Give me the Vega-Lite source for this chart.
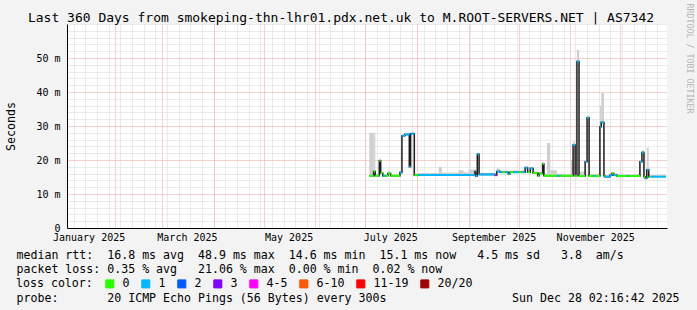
{
  "$schema": "https://vega.github.io/schema/vega-lite/v6.json",
  "width": 600,
  "height": 204,
  "autosize": {"type": "none"},
  "padding": {"left": 67, "top": 24, "right": 30, "bottom": 82},
  "background": "#f3f3f3",
  "config": {
    "view": {"fill": "white", "stroke": null},
    "axis": {"labelFont": "DejaVu Sans Mono", "titleFont": "DejaVu Sans Mono", "labelColor": "black", "titleColor": "black", "titleFontWeight": "normal"}
  },
  "data": {"values": [
    {"t":"2025-07-03T10:00","t2":"2025-07-06T00:00","med":15.4,"hi":28,"loss":"0"},
    {"t":"2025-07-06T00:00","t2":"2025-07-07T00:00","med":16.6,"hi":28,"loss":"0"},
    {"t":"2025-07-07T00:00","t2":"2025-07-09T10:00","med":15.4,"hi":16,"loss":"0"},
    {"t":"2025-07-09T10:00","t2":"2025-07-10T06:00","med":19.8,"hi":20.5,"loss":"0"},
    {"t":"2025-07-10T06:00","t2":"2025-07-11T12:00","med":16.2,"hi":16.6,"loss":"0"},
    {"t":"2025-07-11T12:00","t2":"2025-07-13T00:00","med":15.4,"hi":15.8,"loss":"1"},
    {"t":"2025-07-13T00:00","t2":"2025-07-14T14:00","med":15.4,"hi":15.8,"loss":"0"},
    {"t":"2025-07-14T14:00","t2":"2025-07-16T05:00","med":16.0,"hi":16.6,"loss":"0"},
    {"t":"2025-07-16T05:00","t2":"2025-07-21T19:00","med":15.4,"hi":15.8,"loss":"0"},
    {"t":"2025-07-21T19:00","t2":"2025-07-23T00:00","med":16.3,"hi":16.8,"loss":"1"},
    {"t":"2025-07-23T00:00","t2":"2025-07-24T19:00","med":27.1,"hi":27.6,"loss":"1"},
    {"t":"2025-07-24T19:00","t2":"2025-07-27T10:00","med":27.5,"hi":28,"loss":"1"},
    {"t":"2025-07-27T10:00","t2":"2025-07-28T05:00","med":18.0,"hi":27.5,"loss":"1"},
    {"t":"2025-07-28T05:00","t2":"2025-07-30T10:00","med":27.7,"hi":28.2,"loss":"1"},
    {"t":"2025-07-30T10:00","t2":"2025-08-02T00:00","med":15.5,"hi":16,"loss":"0"},
    {"t":"2025-08-02T00:00","t2":"2025-08-14T00:00","med":15.6,"hi":16.2,"loss":"1"},
    {"t":"2025-08-14T00:00","t2":"2025-08-16T00:00","med":15.6,"hi":18,"loss":"1"},
    {"t":"2025-08-16T00:00","t2":"2025-08-26T00:00","med":15.6,"hi":16.3,"loss":"1"},
    {"t":"2025-08-26T00:00","t2":"2025-08-29T00:00","med":15.6,"hi":17,"loss":"1"},
    {"t":"2025-08-29T00:00","t2":"2025-09-01T00:00","med":15.6,"hi":16.4,"loss":"1"},
    {"t":"2025-09-01T00:00","t2":"2025-09-04T19:00","med":15.6,"hi":17.2,"loss":"1"},
    {"t":"2025-09-04T19:00","t2":"2025-09-05T05:00","med":16.6,"hi":17.3,"loss":"1"},
    {"t":"2025-09-05T05:00","t2":"2025-09-06T05:00","med":15.3,"hi":16,"loss":"1"},
    {"t":"2025-09-06T05:00","t2":"2025-09-07T07:00","med":21.7,"hi":22.2,"loss":"1"},
    {"t":"2025-09-07T07:00","t2":"2025-09-16T22:00","med":15.7,"hi":16.2,"loss":"1"},
    {"t":"2025-09-16T22:00","t2":"2025-09-17T22:00","med":15.5,"hi":16,"loss":"4-5"},
    {"t":"2025-09-17T22:00","t2":"2025-09-19T19:00","med":16.6,"hi":17.5,"loss":"1"},
    {"t":"2025-09-19T19:00","t2":"2025-09-21T00:00","med":16.4,"hi":16.9,"loss":"1"},
    {"t":"2025-09-21T00:00","t2":"2025-09-23T00:00","med":16.4,"hi":16.9,"loss":"0"},
    {"t":"2025-09-23T00:00","t2":"2025-09-24T19:00","med":16.4,"hi":16.9,"loss":"1"},
    {"t":"2025-09-24T19:00","t2":"2025-09-25T19:00","med":15.9,"hi":16.4,"loss":"1"},
    {"t":"2025-09-25T19:00","t2":"2025-09-28T00:00","med":16.4,"hi":16.9,"loss":"0"},
    {"t":"2025-09-28T00:00","t2":"2025-10-01T00:00","med":16.4,"hi":16.9,"loss":"1"},
    {"t":"2025-10-01T00:00","t2":"2025-10-03T00:00","med":16.4,"hi":16.9,"loss":"0"},
    {"t":"2025-10-03T00:00","t2":"2025-10-04T22:00","med":16.4,"hi":16.9,"loss":"1"},
    {"t":"2025-10-04T22:00","t2":"2025-10-06T10:00","med":17.7,"hi":18.3,"loss":"1"},
    {"t":"2025-10-06T10:00","t2":"2025-10-08T00:00","med":16.4,"hi":16.9,"loss":"0"},
    {"t":"2025-10-08T00:00","t2":"2025-10-09T17:00","med":17.5,"hi":18,"loss":"1"},
    {"t":"2025-10-09T17:00","t2":"2025-10-12T10:00","med":16.2,"hi":16.7,"loss":"0"},
    {"t":"2025-10-12T10:00","t2":"2025-10-13T07:00","med":15.4,"hi":16,"loss":"0"},
    {"t":"2025-10-13T07:00","t2":"2025-10-15T10:00","med":16.0,"hi":16.5,"loss":"0"},
    {"t":"2025-10-15T10:00","t2":"2025-10-16T05:00","med":18.8,"hi":19.5,"loss":"0"},
    {"t":"2025-10-16T05:00","t2":"2025-10-18T00:00","med":15.4,"hi":16,"loss":"0"},
    {"t":"2025-10-18T00:00","t2":"2025-10-20T00:00","med":15.4,"hi":25,"loss":"0"},
    {"t":"2025-10-20T00:00","t2":"2025-10-24T00:00","med":15.4,"hi":17,"loss":"0"},
    {"t":"2025-10-24T00:00","t2":"2025-10-26T00:00","med":15.4,"hi":15.9,"loss":"1"},
    {"t":"2025-10-26T00:00","t2":"2025-11-01T12:00","med":15.4,"hi":15.9,"loss":"0"},
    {"t":"2025-11-01T12:00","t2":"2025-11-02T17:00","med":15.4,"hi":20,"loss":"0"},
    {"t":"2025-11-02T17:00","t2":"2025-11-03T22:00","med":24.4,"hi":25.4,"loss":"1"},
    {"t":"2025-11-03T22:00","t2":"2025-11-05T00:00","med":15.4,"hi":16,"loss":"0"},
    {"t":"2025-11-05T00:00","t2":"2025-11-06T06:00","med":49.0,"hi":52.4,"loss":"1"},
    {"t":"2025-11-06T06:00","t2":"2025-11-09T22:00","med":15.3,"hi":16.6,"loss":"0"},
    {"t":"2025-11-09T22:00","t2":"2025-11-11T02:00","med":19.5,"hi":20,"loss":"1"},
    {"t":"2025-11-11T02:00","t2":"2025-11-12T07:00","med":32.4,"hi":33,"loss":"1"},
    {"t":"2025-11-12T07:00","t2":"2025-11-15T00:00","med":15.3,"hi":15.9,"loss":"0"},
    {"t":"2025-11-15T00:00","t2":"2025-11-16T00:00","med":15.3,"hi":15.9,"loss":"1"},
    {"t":"2025-11-16T00:00","t2":"2025-11-18T19:00","med":15.3,"hi":15.9,"loss":"0"},
    {"t":"2025-11-18T19:00","t2":"2025-11-19T14:00","med":29.8,"hi":36,"loss":"1"},
    {"t":"2025-11-19T14:00","t2":"2025-11-21T05:00","med":31.0,"hi":39.7,"loss":"1"},
    {"t":"2025-11-21T05:00","t2":"2025-11-21T19:00","med":15.3,"hi":16,"loss":"0"},
    {"t":"2025-11-21T19:00","t2":"2025-11-24T19:00","med":15.1,"hi":15.6,"loss":"1"},
    {"t":"2025-11-24T19:00","t2":"2025-11-26T00:00","med":15.5,"hi":16.3,"loss":"1"},
    {"t":"2025-11-26T00:00","t2":"2025-11-27T00:00","med":16.0,"hi":16.5,"loss":"0"},
    {"t":"2025-11-27T00:00","t2":"2025-11-28T22:00","med":15.6,"hi":16.2,"loss":"1"},
    {"t":"2025-11-28T22:00","t2":"2025-12-05T00:00","med":15.3,"hi":15.8,"loss":"0"},
    {"t":"2025-12-05T00:00","t2":"2025-12-06T00:00","med":15.3,"hi":15.8,"loss":"1"},
    {"t":"2025-12-06T00:00","t2":"2025-12-12T19:00","med":15.3,"hi":15.8,"loss":"0"},
    {"t":"2025-12-12T19:00","t2":"2025-12-14T00:00","med":19.5,"hi":20,"loss":"1"},
    {"t":"2025-12-14T00:00","t2":"2025-12-15T05:00","med":22.2,"hi":22.8,"loss":"1"},
    {"t":"2025-12-15T05:00","t2":"2025-12-16T00:00","med":15.1,"hi":15.6,"loss":"0"},
    {"t":"2025-12-16T00:00","t2":"2025-12-16T22:00","med":14.6,"hi":15.2,"loss":"1"},
    {"t":"2025-12-16T22:00","t2":"2025-12-18T02:00","med":17.1,"hi":23.7,"loss":"1"},
    {"t":"2025-12-18T02:00","t2":"2025-12-19T00:00","med":15.1,"hi":15.6,"loss":"0"},
    {"t":"2025-12-19T00:00","t2":"2025-12-28T10:00","med":15.1,"hi":15.6,"loss":"1"}
  ]},
  "resolve": {"axis": {"x": "independent", "y": "independent"}},
  "layer": [
    {
      "mark": {"type": "rect", "color": "#cfcfcf"},
      "encoding": {
        "x": {"field": "t", "type": "temporal",
          "scale": {"domain": [{"year":2025,"month":1,"date":3,"hours":1},{"year":2025,"month":12,"date":29,"hours":1}]},
          "axis": {"orient": "bottom", "grid": true, "gridColor": "#d6d6d6", "gridDash": [1, 1], "labels": false, "ticks": false, "domain": false, "title": null,
            "values": [
              {"year":2025,"month":1,"date":7},{"year":2025,"month":1,"date":14},{"year":2025,"month":1,"date":21},{"year":2025,"month":1,"date":28},
              {"year":2025,"month":2,"date":4},{"year":2025,"month":2,"date":11},{"year":2025,"month":2,"date":18},{"year":2025,"month":2,"date":25},
              {"year":2025,"month":3,"date":4},{"year":2025,"month":3,"date":11},{"year":2025,"month":3,"date":18},{"year":2025,"month":3,"date":25},
              {"year":2025,"month":4,"date":1},{"year":2025,"month":4,"date":8},{"year":2025,"month":4,"date":15},{"year":2025,"month":4,"date":22},{"year":2025,"month":4,"date":29},
              {"year":2025,"month":5,"date":6},{"year":2025,"month":5,"date":13},{"year":2025,"month":5,"date":20},{"year":2025,"month":5,"date":27},
              {"year":2025,"month":6,"date":3},{"year":2025,"month":6,"date":10},{"year":2025,"month":6,"date":17},{"year":2025,"month":6,"date":24},
              {"year":2025,"month":7,"date":1},{"year":2025,"month":7,"date":8},{"year":2025,"month":7,"date":15},{"year":2025,"month":7,"date":22},{"year":2025,"month":7,"date":29},
              {"year":2025,"month":8,"date":5},{"year":2025,"month":8,"date":12},{"year":2025,"month":8,"date":19},{"year":2025,"month":8,"date":26},
              {"year":2025,"month":9,"date":2},{"year":2025,"month":9,"date":9},{"year":2025,"month":9,"date":16},{"year":2025,"month":9,"date":23},{"year":2025,"month":9,"date":30},
              {"year":2025,"month":10,"date":7},{"year":2025,"month":10,"date":14},{"year":2025,"month":10,"date":21},{"year":2025,"month":10,"date":28},
              {"year":2025,"month":11,"date":4},{"year":2025,"month":11,"date":11},{"year":2025,"month":11,"date":18},{"year":2025,"month":11,"date":25},
              {"year":2025,"month":12,"date":2},{"year":2025,"month":12,"date":9},{"year":2025,"month":12,"date":16},{"year":2025,"month":12,"date":23}
            ]}},
        "x2": {"field": "t2"},
        "y": {"field": "med", "type": "quantitative",
          "scale": {"domain": [0, 60], "nice": false},
          "axis": {"orient": "left", "values": [2,4,6,8,12,14,16,18,22,24,26,28,32,34,36,38,42,44,46,48,52,54,56,58,60], "grid": true, "gridColor": "#d6d6d6", "gridDash": [1, 1], "labels": false, "ticks": false, "domain": false,
            "title": "Last 360 Days from smokeping-thn-lhr01.pdx.net.uk to M.ROOT-SERVERS.NET | AS7342",
            "titleFontSize": 13, "titleAngle": 0, "titleX": 273.5, "titleY": -2.5, "titleAlign": "center", "titleBaseline": "alphabetic"}},
        "y2": {"field": "hi"}
      }
    },
    {
      "mark": {"type": "line", "interpolate": "step-after", "color": "#1c1c1c", "strokeWidth": 1.5},
      "encoding": {
        "x": {"field": "t", "type": "temporal",
          "axis": {"orient": "bottom", "tickCount": {"interval": "month", "step": 1}, "grid": true, "gridColor": "#eea0a0", "gridDash": [1, 1], "labels": false, "ticks": false, "domain": true, "domainColor": "black", "domainWidth": 1,
            "title": "probe:\u00a0\u00a0\u00a0\u00a0\u00a0\u00a0\u00a020 ICMP Echo Pings (56 Bytes) every 300s\u00a0\u00a0\u00a0\u00a0\u00a0\u00a0\u00a0\u00a0\u00a0\u00a0\u00a0\u00a0\u00a0\u00a0\u00a0\u00a0\u00a0\u00a0Sun Dec 28 02:16:42 2025",
            "titleFontSize": 11.6, "titleX": -51, "titleY": 73.5, "titleAnchor": "start", "titleAlign": "left", "titleBaseline": "alphabetic"}},
        "y": {"field": "med", "type": "quantitative",
          "axis": {"orient": "left", "values": [0, 10, 20, 30, 40, 50], "grid": true, "gridColor": "#eea0a0", "gridDash": [1, 1],
            "labelExpr": "datum.value == 0 ? '0' : datum.value + ' m'", "labelFontSize": 10, "labelPadding": 7, "ticks": false, "tickSize": 0,
            "domain": true, "domainColor": "black", "domainWidth": 1,
            "title": "Seconds", "titleFontSize": 11.6, "titleAngle": 270, "titleX": -53, "titleY": 102, "titleAlign": "center", "titleBaseline": "alphabetic"}}
      }
    },
    {
      "mark": {"type": "rect", "strokeWidth": 2},
      "encoding": {
        "x": {"field": "t", "type": "temporal",
          "axis": {"orient": "bottom", "values": [{"year":2025,"month":1,"date":16},{"year":2025,"month":3,"date":16},{"year":2025,"month":5,"date":16},{"year":2025,"month":7,"date":16},{"year":2025,"month":9,"date":16},{"year":2025,"month":11,"date":16}],
            "format": "%B %Y", "labelFontSize": 10, "labelPadding": 4, "labelFlush": false, "labelOverlap": false, "grid": false, "ticks": false, "tickSize": 0, "domain": false,
            "title": [
              "median rtt:\u00a0\u00a016.8 ms avg\u00a0\u00a048.9 ms max\u00a0\u00a014.6 ms min\u00a0\u00a015.1 ms now\u00a0\u00a0\u00a04.5 ms sd\u00a0\u00a0\u00a03.8\u00a0\u00a0am/s",
              "packet loss: 0.35 % avg\u00a0\u00a0\u00a021.06 % max\u00a0\u00a00.00 % min\u00a0\u00a00.02 % now"
            ],
            "titleFontSize": 11.6, "titleX": -51, "titleY": 30, "titleAnchor": "start", "titleAlign": "left", "titleBaseline": "alphabetic", "titleLineHeight": 14.7}},
        "x2": {"field": "t2"},
        "y": {"field": "med", "type": "quantitative",
          "axis": {"orient": "right", "labels": false, "ticks": false, "domain": false, "grid": false,
            "title": "RRDTOOL / TOBI OETIKER", "titleFontSize": 8.3, "titleColor": "#b4b4b4", "titleAngle": 90, "titleX": 21, "titleY": 34, "titleAlign": "center", "titleBaseline": "middle"}},
        "y2": {"field": "med"},
        "color": {"field": "loss", "type": "nominal",
          "scale": {"domain": ["0", "1", "2", "3", "4-5", "6-10", "11-19", "20/20"], "range": ["#26ff00", "#00b8ff", "#0059ff", "#7e00ff", "#ff00ff", "#ff5500", "#ff0000", "#a10000"]},
          "legend": {"orient": "none", "legendX": -51, "legendY": 254, "direction": "horizontal", "title": "loss color:", "titleOrient": "left",
            "titleFont": "DejaVu Sans Mono", "titleFontSize": 11.6, "titleFontWeight": "normal", "titleColor": "black", "titlePadding": 11,
            "labelFont": "DejaVu Sans Mono", "labelFontSize": 11.6, "labelColor": "black", "labelOffset": 7, "columnPadding": 9,
            "symbolType": "square", "symbolSize": 64, "padding": 0,
            "encode": {"symbols": {"update": {"stroke": {"value": "black"}, "strokeWidth": {"value": 1}, "opacity": {"value": 1}}}}}},
        "stroke": {"field": "loss", "type": "nominal",
          "scale": {"domain": ["0", "1", "2", "3", "4-5", "6-10", "11-19", "20/20"], "range": ["#26ff00", "#00b8ff", "#0059ff", "#7e00ff", "#ff00ff", "#ff5500", "#ff0000", "#a10000"]},
          "legend": null}
      }
    }
  ]
}
